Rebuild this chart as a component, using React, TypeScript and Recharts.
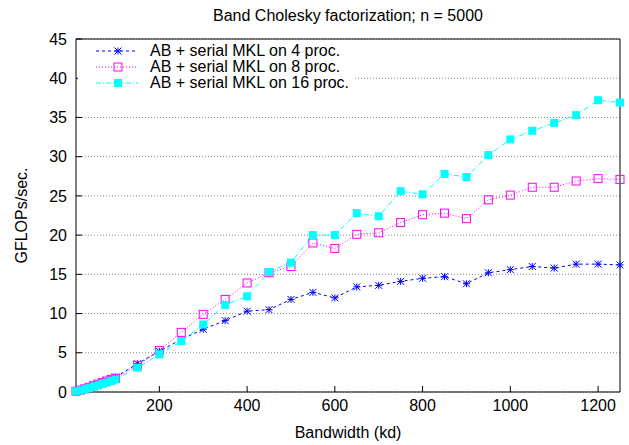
import {
  CartesianGrid,
  ComposedChart,
  Line,
  XAxis,
  YAxis,
} from "recharts";

// bandwidth (kd) sampled in the run
const bandwidth = [
  10, 20, 30, 40, 50, 60, 70, 80, 90, 100, 150, 200, 250, 300, 350, 400, 450,
  500, 550, 600, 650, 700, 750, 800, 850, 900, 950, 1000, 1050, 1100, 1150,
  1200, 1250,
];

const gflops4 = [
  0.1, 0.25, 0.45, 0.65, 0.85, 1.05, 1.25, 1.45, 1.7, 1.9, 3.6, 5.2, 6.7, 8.0,
  9.1, 10.3, 10.5, 11.8, 12.7, 12.0, 13.4, 13.6, 14.1, 14.5, 14.7, 13.8, 15.2,
  15.6, 16.0, 15.8, 16.3, 16.3, 16.2,
];

const gflops8 = [
  0.1, 0.25, 0.4, 0.6, 0.8, 1.0, 1.2, 1.4, 1.6, 1.75, 3.4, 5.3, 7.6, 9.9, 11.8,
  13.9, 15.2, 16.0, 19.0, 18.3, 20.1, 20.3, 21.6, 22.6, 22.8, 22.1, 24.5, 25.1,
  26.1, 26.1, 26.9, 27.2, 27.1,
];

const gflops16 = [
  0.08, 0.2, 0.35, 0.5, 0.7, 0.85, 1.05, 1.2, 1.4, 1.6, 3.1, 4.8, 6.5, 8.6,
  11.1, 12.2, 15.3, 16.5, 20.0, 20.0, 22.8, 22.4, 25.6, 25.2, 27.8, 27.4, 30.2,
  32.2, 33.3, 34.3, 35.3, 37.2, 36.9,
];

const xTicks = [200, 400, 600, 800, 1000, 1200];
const yTicks = [0, 5, 10, 15, 20, 25, 30, 35, 40, 45];

const seriesLabels = [
  "AB + serial MKL on 4 proc.",
  "AB + serial MKL on 8 proc.",
  "AB + serial MKL on 16 proc.",
];

const data = bandwidth.map((x, i) => ({
  x,
  p4: gflops4[i],
  p8: gflops8[i],
  p16: gflops16[i],
}));

const FONT = "'Liberation Sans', Arial, Helvetica, sans-serif";
const FS = 16;
const BLUE = "#0000ff";
const MAGENTA = "#ff00ff";
const CYAN = "#00ffff";

// gnuplot style point markers
function Star({ cx, cy }: { cx: number; cy: number }) {
  const r = 3.5;
  return (
    <g stroke={BLUE} strokeWidth={1}>
      <line x1={cx - r} y1={cy} x2={cx + r} y2={cy} />
      <line x1={cx} y1={cy - r} x2={cx} y2={cy + r} />
      <line x1={cx - r} y1={cy - r} x2={cx + r} y2={cy + r} />
      <line x1={cx - r} y1={cy + r} x2={cx + r} y2={cy - r} />
    </g>
  );
}

function OpenSquare({ cx, cy }: { cx: number; cy: number }) {
  return (
    <rect
      x={cx - 4}
      y={cy - 4}
      width={8}
      height={8}
      fill="none"
      stroke={MAGENTA}
      strokeWidth={1}
    />
  );
}

function FilledSquare({ cx, cy }: { cx: number; cy: number }) {
  return <rect x={cx - 4} y={cy - 4} width={8} height={8} fill={CYAN} />;
}

const series = [
  { key: "p4", color: BLUE, dash: "3 3", Marker: Star },
  { key: "p8", color: MAGENTA, dash: "1 2", Marker: OpenSquare },
  { key: "p16", color: CYAN, dash: "5 2 1 2", Marker: FilledSquare },
];

const tickStyle = { fontSize: FS, fill: "#000", fontFamily: FONT };

export default function App() {
  return (
    <div
      style={{
        position: "relative",
        width: 629,
        height: 445,
        background: "#fff",
        fontFamily: FONT,
      }}
    >
      <style>{"body{margin:0}"}</style>
      <ComposedChart
        width={629}
        height={445}
        data={data}
        margin={{ top: 38, right: 8, left: 0, bottom: 23 }}
      >
        <CartesianGrid
          xAxisId="b"
          yAxisId="l"
          vertical={false}
          stroke="#888"
          strokeDasharray="1 2"
        />
        <XAxis
          xAxisId="b"
          dataKey="x"
          type="number"
          domain={[10, 1250]}
          ticks={xTicks}
          height={30}
          tickSize={-6}
          tickMargin={14}
          stroke="#000"
          tick={tickStyle}
          label={(props: any) => {
            const vb = props.viewBox;
            return (
              <text
                x={vb.x + vb.width / 2}
                y={vb.y + 40}
                textAnchor="middle"
                dominantBaseline="central"
                fontSize={FS}
                fontFamily={FONT}
              >
                Bandwidth (kd)
              </text>
            );
          }}
        />
        <XAxis
          xAxisId="t"
          orientation="top"
          dataKey="x"
          type="number"
          domain={[10, 1250]}
          ticks={xTicks}
          height={1}
          tickSize={-6}
          tick={false}
          stroke="#000"
          label={(props: any) => {
            const vb = props.viewBox;
            return (
              <text
                x={vb.x + vb.width / 2}
                y={15}
                textAnchor="middle"
                dominantBaseline="central"
                fontSize={FS}
                fontFamily={FONT}
              >
                Band Cholesky factorization; n = 5000
              </text>
            );
          }}
        />
        <YAxis
          yAxisId="l"
          type="number"
          domain={[0, 45]}
          ticks={yTicks}
          width={76}
          tickSize={-6}
          tickMargin={15}
          stroke="#000"
          tick={tickStyle}
          label={(props: any) => {
            const vb = props.viewBox;
            const cx = vb.x + 21;
            const cy = vb.y + vb.height / 2;
            return (
              <text
                x={cx}
                y={cy}
                transform={`rotate(-90 ${cx} ${cy})`}
                textAnchor="middle"
                dominantBaseline="central"
                fontSize={FS}
                fontFamily={FONT}
              >
                GFLOPs/sec.
              </text>
            );
          }}
        />
        <YAxis
          yAxisId="r"
          orientation="right"
          type="number"
          domain={[0, 45]}
          ticks={yTicks}
          width={1}
          tickSize={-6}
          tick={false}
          stroke="#000"
        />
        {series.map(({ key, color, dash, Marker }) => (
          <Line
            key={key}
            xAxisId="b"
            yAxisId="l"
            dataKey={key}
            type="linear"
            stroke={color}
            strokeWidth={1}
            strokeDasharray={dash}
            dot={(p: any) => <Marker key={`${key}-${p.index}`} cx={p.cx} cy={p.cy} />}
            activeDot={false}
            isAnimationActive={false}
          />
        ))}
      </ComposedChart>

      {/* key, opaque like gnuplot's */}
      <div
        style={{
          position: "absolute",
          left: 78,
          top: 43,
          width: 276,
          height: 50,
          background: "#fff",
        }}
      >
        {series.map(({ key, color, dash, Marker }, i) => (
          <div
            key={key}
            style={{
              position: "absolute",
              left: 0,
              top: i * 16,
              height: 16,
              display: "flex",
              alignItems: "center",
            }}
          >
            <svg width={72} height={16} style={{ display: "block" }}>
              <line
                x1={18}
                y1={8}
                x2={60}
                y2={8}
                stroke={color}
                strokeDasharray={dash}
              />
              <Marker cx={40} cy={8} />
            </svg>
            <span style={{ fontSize: FS, lineHeight: "16px", whiteSpace: "nowrap" }}>
              {seriesLabels[i]}
            </span>
          </div>
        ))}
      </div>
    </div>
  );
}
